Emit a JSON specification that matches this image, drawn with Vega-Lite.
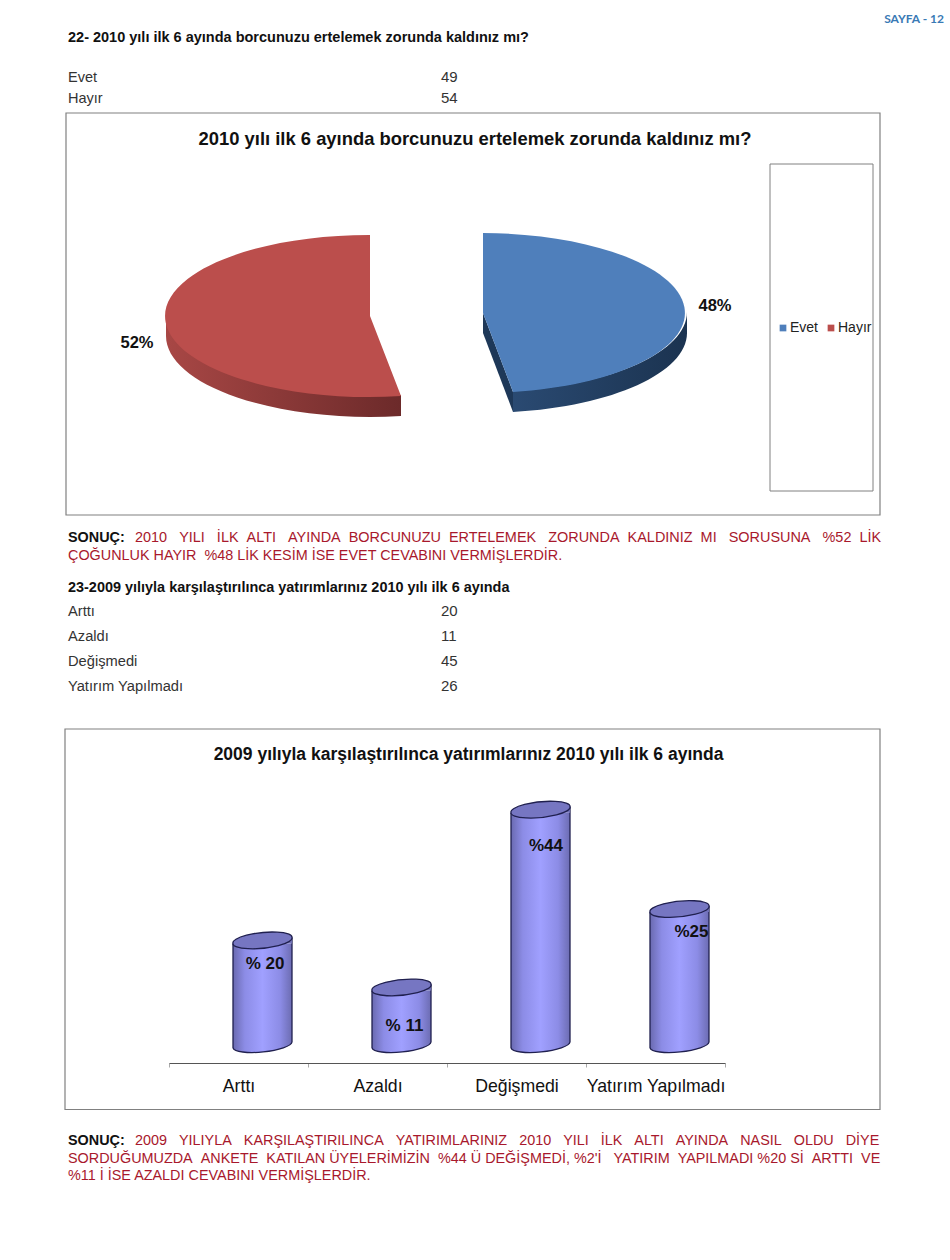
{
"$schema":"https://vega.github.io/schema/vega-lite/v6.json",
"padding":0,"spacing":0,"background":"white",
"config":{"view":{"stroke":null},"font":"Liberation Sans","concat":{"spacing":0}},
"vconcat":[
{"width":950,"height":112,"layer":[
 {"data":{"values":[{"text":"SAYFA - 12"}]},"mark":{"type":"text","align":"right","baseline":"middle","font":"Lato","fontWeight":"bold","fontSize":12,"color":"#3a7ab5"},"encoding":{"x":{"value":944},"y":{"value":19},"text":{"field":"text"}}},
 {"data":{"values":[{"text":"22- 2010 yılı ilk 6 ayında borcunuzu ertelemek zorunda kaldınız mı?"}]},"mark":{"type":"text","align":"left","baseline":"middle","fontWeight":"bold","fontSize":14.5,"color":"#111111"},"encoding":{"x":{"value":68},"y":{"value":38},"text":{"field":"text"}}},
 {"data":{"values":[{"answer":"Evet","count":49},{"answer":"Hayır","count":54}]},"layer":[
  {"mark":{"type":"text","align":"left","baseline":"middle","fontSize":14.5,"color":"#333333"},"encoding":{"x":{"value":68},"y":{"field":"answer","type":"nominal","axis":null,"scale":{"type":"point","domain":["Evet","Hayır"],"range":[77.5,98.5],"padding":0}},"text":{"field":"answer"}}},
  {"mark":{"type":"text","align":"left","baseline":"middle","fontSize":15,"dy":-1,"color":"#333333"},"encoding":{"x":{"value":441},"y":{"field":"answer","type":"nominal","axis":null,"scale":{"type":"point","domain":["Evet","Hayır"],"range":[77.5,98.5],"padding":0}},"text":{"field":"count"}}}
 ]}
]},
{"width":950,"height":404,
 "layer":[
 {"data":{"values":[{"box":"chart"}]},"mark":{"type":"rect","fill":"transparent","stroke":"#808080","strokeWidth":1.2},"encoding":{"x":{"value":66},"x2":{"value":880},"y":{"value":1},"y2":{"value":403}}},
 {"data":{"values":[{"box":"legend"}]},"mark":{"type":"rect","fill":"transparent","stroke":"#808080","strokeWidth":1},"encoding":{"x":{"value":770},"x2":{"value":873},"y":{"value":52},"y2":{"value":379}}},
 {"data":{"values":[{"title":"2010 yılı ilk 6 ayında borcunuzu ertelemek zorunda kaldınız mı?"}]},"mark":{"type":"text","align":"center","baseline":"middle","fontWeight":"bold","fontSize":18.4,"color":"#111111"},"encoding":{"x":{"value":475},"y":{"value":27},"text":{"field":"title"}}},
 {"data":{"values":[{"answer":"Evet","count":49,"share":"48%"},{"answer":"Hayır","count":54,"share":"52%"}]},
  "encoding":{
   "x":{"field":"answer","type":"nominal","axis":null,"scale":{"type":"point","domain":["Hayır","Evet"],"range":[370,483],"padding":0}},
   "y":{"field":"answer","type":"nominal","axis":null,"scale":{"type":"point","domain":["Hayır","Evet"],"range":[204,201],"padding":0}}
  },
  "layer":[
  {"mark":{"type":"square","size":0,"opacity":1},"encoding":{
    "color":{"field":"answer","type":"nominal","scale":{"domain":["Evet","Hayır"],"range":["#4f7fbb","#bb4e4c"]},"legend":{"orient":"none","legendX":776,"legendY":321,"direction":"horizontal","title":null,"symbolType":"square","symbolSize":45,"labelFontSize":14,"labelColor":"#222222","columnPadding":5,"labelOffset":0,"columns":2,"encode":{"symbols":{"update":{"size":{"value":45},"opacity":{"value":1}}}}}}}},
  {"transform":[{"filter":"datum.answer==='Evet'"}],"mark":{"type":"point","filled":true,"opacity":1,"size":4,"shape":"M0,0 L30,79 L30,99 L0,20 Z","fill":"#1e3858"}},
  {"transform":[{"filter":"datum.answer==='Evet'"}],"mark":{"type":"point","filled":true,"opacity":1,"size":4,"shape":"M204,-1 A204,80 0 0 1 30,78 L30,99 A204,80 0 0 0 204,20 Z","fill":{"gradient":"linear","x1":0,"y1":0,"x2":1,"y2":0,"stops":[{"offset":0,"color":"#2a4a72"},{"offset":1,"color":"#1b3350"}]}}},
  {"transform":[{"filter":"datum.answer==='Hayır'"}],"mark":{"type":"point","filled":true,"opacity":1,"size":4,"shape":"M-204,-1 A204,81 0 0 0 31,79 L31,100 A204,81 0 0 1 -204,20 Z","fill":{"gradient":"linear","x1":0,"y1":0,"x2":1,"y2":0,"stops":[{"offset":0,"color":"#a84745"},{"offset":1,"color":"#6c2a2a"}]}}},
  {"transform":[{"filter":"datum.answer==='Evet'"}],"mark":{"type":"point","filled":true,"opacity":1,"size":4,"shape":"M0,0 L0,-80 A204,80 0 0 1 30,79 Z","fill":"#4f7fbb"}},
  {"transform":[{"filter":"datum.answer==='Hayır'"}],"mark":{"type":"point","filled":true,"opacity":1,"size":4,"shape":"M0,0 L31,80 A204,81 0 1 1 0,-81 Z","fill":"#bb4e4c"}},
  {"transform":[{"filter":"datum.answer==='Evet'"}],"mark":{"type":"text","align":"center","baseline":"middle","fontWeight":"bold","fontSize":16.5,"color":"#111111","dx":232,"dy":-7},"encoding":{"text":{"field":"share"}}},
  {"transform":[{"filter":"datum.answer==='Hayır'"}],"mark":{"type":"text","align":"center","baseline":"middle","fontWeight":"bold","fontSize":16.5,"color":"#111111","dx":-233,"dy":27},"encoding":{"text":{"field":"share"}}}
 ]}
]},
{"width":950,"height":212,"layer":[
 {"data":{"values":[{"text":"SONUÇ:"}]},"mark":{"type":"text","align":"left","baseline":"middle","fontWeight":"bold","fontSize":14.4,"color":"#111111"},"encoding":{"x":{"value":68},"y":{"value":22},"text":{"field":"text"}}},
 {"data":{"values":[{"text":"2010\u00a0\u00a0\u00a0YILI\u00a0\u00a0\u00a0İLK\u00a0\u00a0ALTI\u00a0\u00a0\u00a0AYINDA\u00a0\u00a0BORCUNUZU\u00a0\u00a0ERTELEMEK\u00a0\u00a0\u00a0ZORUNDA\u00a0\u00a0KALDINIZ\u00a0\u00a0MI\u00a0\u00a0\u00a0SORUSUNA\u00a0\u00a0\u00a0%52\u00a0\u00a0LİK"}]},"mark":{"type":"text","align":"left","baseline":"middle","fontSize":14.45,"color":"#a8182c"},"encoding":{"x":{"value":135},"y":{"value":22},"text":{"field":"text"}}},
 {"data":{"values":[{"text":"ÇOĞUNLUK HAYIR \u00a0%48 LİK KESİM İSE EVET CEVABINI VERMİŞLERDİR."}]},"mark":{"type":"text","align":"left","baseline":"middle","fontSize":14.4,"color":"#a8182c"},"encoding":{"x":{"value":68},"y":{"value":40},"text":{"field":"text"}}},
 {"data":{"values":[{"text":"23-2009 yılıyla karşılaştırılınca yatırımlarınız 2010 yılı ilk 6 ayında"}]},"mark":{"type":"text","align":"left","baseline":"middle","fontWeight":"bold","fontSize":14.45,"color":"#111111"},"encoding":{"x":{"value":68},"y":{"value":72},"text":{"field":"text"}}},
 {"data":{"values":[{"answer":"Arttı","count":20},{"answer":"Azaldı","count":11},{"answer":"Değişmedi","count":45},{"answer":"Yatırım Yapılmadı","count":26}]},"layer":[
  {"mark":{"type":"text","align":"left","baseline":"middle","fontSize":14.7,"color":"#333333"},"encoding":{"x":{"value":68},"y":{"field":"answer","type":"nominal","axis":null,"scale":{"type":"point","domain":["Arttı","Azaldı","Değişmedi","Yatırım Yapılmadı"],"range":[95.5,170.5],"padding":0}},"text":{"field":"answer"}}},
  {"mark":{"type":"text","align":"left","baseline":"middle","fontSize":15,"dy":-1,"color":"#333333"},"encoding":{"x":{"value":441},"y":{"field":"answer","type":"nominal","axis":null,"scale":{"type":"point","domain":["Arttı","Azaldı","Değişmedi","Yatırım Yapılmadı"],"range":[95.5,170.5],"padding":0}},"text":{"field":"count"}}}
 ]}
]},
{"width":950,"height":335,"layer":[
 {"data":{"values":[{"box":"chart"}]},"mark":{"type":"rect","fill":"transparent","stroke":"#808080","strokeWidth":1.2},"encoding":{"x":{"value":65},"x2":{"value":880},"y":{"value":1},"y2":{"value":381.5}}},
 {"data":{"values":[{"title":"2009 yılıyla karşılaştırılınca yatırımlarınız 2010 yılı ilk 6 ayında"}]},"mark":{"type":"text","align":"center","baseline":"middle","fontWeight":"bold","fontSize":17.5,"color":"#111111"},"encoding":{"x":{"value":468.5},"y":{"value":27},"text":{"field":"title"}}},
 {"data":{"values":[{"answer":"Arttı","count":20,"label":"% 20"},{"answer":"Azaldı","count":11,"label":"% 11"},{"answer":"Değişmedi","count":45,"label":"%44"},{"answer":"Yatırım Yapılmadı","count":26,"label":"%25"}]},
  "encoding":{
   "x":{"field":"answer","type":"nominal","sort":null,"title":null,"scale":{"type":"band","domain":["Arttı","Azaldı","Değişmedi","Yatırım Yapılmadı"],"range":[169,725],"paddingInner":0,"paddingOuter":0},"axis":{"labelAngle":0,"labelFontSize":17.7,"labelColor":"#111111","domainColor":"#555555","domainWidth":1.2,"tickColor":"#aaaaaa","tickSize":4,"tickBand":"extent","labelPadding":10,"labelFont":"Liberation Sans","labelLimit":200,"grid":false}},
   "y":{"field":"count","type":"quantitative","axis":null,"scale":{"domain":[0,60],"range":[317,3.2]}}
  },
  "layer":[
  {"mark":{"type":"point","filled":true,"opacity":1,"size":4,"xOffset":24,"shape":"M-29.5,-3 L-29.5,3 A29.7,7.4 -5.8 0 0 29.5,-3 Z","fill":{"gradient":"linear","x1":0,"y1":0,"x2":1,"y2":0,"stops":[{"offset":0,"color":"#6a6ab0"},{"offset":0.2,"color":"#8c8ce6"},{"offset":0.5,"color":"#a0a0ff"},{"offset":0.8,"color":"#8c8ce6"},{"offset":1,"color":"#6c6cb2"}]}},"encoding":{"y":{"datum":0,"type":"quantitative"}}},
  {"mark":{"type":"point","filled":false,"opacity":1,"size":4,"xOffset":24,"shape":"M-29.5,3 A29.7,7.4 -5.8 0 0 29.5,-3","stroke":"#20204f","strokeWidth":1.3},"encoding":{"y":{"datum":0,"type":"quantitative"}}},
  {"mark":{"type":"bar","size":59,"xOffset":24,"yOffset":3,"y2Offset":-3,"fill":{"gradient":"linear","x1":0,"y1":0,"x2":1,"y2":0,"stops":[{"offset":0,"color":"#6a6ab0"},{"offset":0.2,"color":"#8c8ce6"},{"offset":0.5,"color":"#a0a0ff"},{"offset":0.8,"color":"#8c8ce6"},{"offset":1,"color":"#6c6cb2"}]}},"encoding":{"y2":{"datum":0}}},
  {"mark":{"type":"rule","xOffset":-5.5,"yOffset":3,"y2Offset":3,"stroke":"#20204f","strokeWidth":1.3},"encoding":{"y2":{"datum":0}}},
  {"mark":{"type":"rule","xOffset":53.5,"yOffset":-3,"y2Offset":-3,"stroke":"#20204f","strokeWidth":1.3},"encoding":{"y2":{"datum":0}}},
  {"mark":{"type":"point","filled":true,"opacity":1,"size":4,"xOffset":24,"shape":"M-29.5,3 L29.5,-3 L29.5,3 Z","fill":{"gradient":"linear","x1":0,"y1":0,"x2":1,"y2":0,"stops":[{"offset":0,"color":"#6a6ab0"},{"offset":0.2,"color":"#8c8ce6"},{"offset":0.5,"color":"#a0a0ff"},{"offset":0.8,"color":"#8c8ce6"},{"offset":1,"color":"#6c6cb2"}]}}},
  {"mark":{"type":"point","filled":true,"opacity":1,"size":4,"xOffset":24,"shape":"M-29.5,3 A29.7,7.4 -5.8 1 1 29.5,-3 A29.7,7.4 -5.8 1 1 -29.5,3 Z","fill":"#7676c2","stroke":"#20204f","strokeWidth":1.3}},
  {"transform":[{"filter":"datum.answer==='Arttı'"}],"mark":{"type":"text","align":"center","baseline":"middle","fontWeight":"bold","fontSize":17,"color":"#111111","dx":26.5,"dy":23.6},"encoding":{"text":{"field":"label"}}},
  {"transform":[{"filter":"datum.answer==='Azaldı'"}],"mark":{"type":"text","align":"center","baseline":"middle","fontWeight":"bold","fontSize":17,"color":"#111111","dx":27,"dy":38.5},"encoding":{"text":{"field":"label"}}},
  {"transform":[{"filter":"datum.answer==='Değişmedi'"}],"mark":{"type":"text","align":"center","baseline":"middle","fontWeight":"bold","fontSize":17,"color":"#111111","dx":29.5,"dy":36},"encoding":{"text":{"field":"label"}}},
  {"transform":[{"filter":"datum.answer==='Yatırım Yapılmadı'"}],"mark":{"type":"text","align":"center","baseline":"middle","fontWeight":"bold","fontSize":17,"color":"#111111","dx":36,"dy":23},"encoding":{"text":{"field":"label"}}}
 ]}
]},
{"width":950,"height":148,"layer":[
 {"data":{"values":[{"text":"SONUÇ:"}]},"mark":{"type":"text","align":"left","baseline":"middle","fontWeight":"bold","fontSize":14.4,"color":"#111111"},"encoding":{"x":{"value":68},"y":{"value":30},"text":{"field":"text"}}},
 {"data":{"values":[{"text":"2009\u00a0\u00a0\u00a0YILIYLA\u00a0\u00a0\u00a0KARŞILAŞTIRILINCA\u00a0\u00a0\u00a0YATIRIMLARINIZ\u00a0\u00a0\u00a02010\u00a0\u00a0\u00a0YILI\u00a0\u00a0\u00a0İLK\u00a0\u00a0\u00a0ALTI\u00a0\u00a0\u00a0AYINDA\u00a0\u00a0\u00a0NASIL\u00a0\u00a0\u00a0OLDU\u00a0\u00a0\u00a0DİYE"}]},"mark":{"type":"text","align":"left","baseline":"middle","fontSize":14.4,"color":"#a8182c"},"encoding":{"x":{"value":135},"y":{"value":30},"text":{"field":"text"}}},
 {"data":{"values":[{"text":"SORDUĞUMUZDA\u00a0\u00a0ANKETE\u00a0\u00a0KATILAN\u00a0ÜYELERİMİZİN\u00a0\u00a0%44 Ü DEĞİŞMEDİ,\u00a0%2'İ\u00a0\u00a0\u00a0YATIRIM\u00a0\u00a0YAPILMADI %20 Sİ\u00a0\u00a0ARTTI\u00a0\u00a0VE"}]},"mark":{"type":"text","align":"left","baseline":"middle","fontSize":14.4,"color":"#a8182c"},"encoding":{"x":{"value":68},"y":{"value":48},"text":{"field":"text"}}},
 {"data":{"values":[{"text":"%11 İ İSE AZALDI CEVABINI VERMİŞLERDİR."}]},"mark":{"type":"text","align":"left","baseline":"middle","fontSize":14.4,"color":"#a8182c"},"encoding":{"x":{"value":68},"y":{"value":65},"text":{"field":"text"}}}
]}
]
}
